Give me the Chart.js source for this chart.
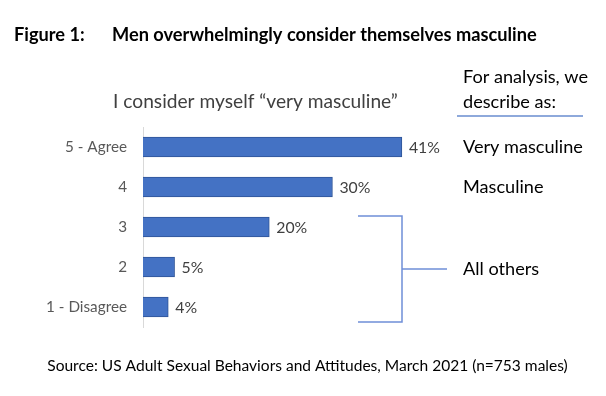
<!DOCTYPE html>
<html><head><meta charset="utf-8">
<script src="https://cdn.jsdelivr.net/npm/chart.js@4.4.0/dist/chart.umd.min.js"></script>
<style>html,body{margin:0;padding:0;background:#fff;}canvas{display:block;}</style>
</head><body>
<canvas id="c" width="606" height="396"></canvas>
<script>
const categories = ['5 - Agree', '4', '3', '2', '1 - Disagree'];
const values = [41, 30, 20, 5, 4];
const valueLabels = ['41%', '30%', '20%', '5%', '4%'];
const groupLabels = ['Very masculine', 'Masculine', 'All others'];
const figureLabel = 'Figure 1:';
const titleText = 'Men overwhelmingly consider themselves masculine';
const subtitleText = 'I consider myself \u201Cvery masculine\u201D';
const sideHeader = ['For analysis, we', 'describe as:'];
const sourceText = 'Source: US Adult Sexual Behaviors and Attitudes, March 2021 (n=753 males)';

const FAM = 'Lato, "Open Sans", sans-serif';
function fit(ctx, text, weight, target) {
  ctx.font = weight + ' 20px ' + FAM;
  const w = ctx.measureText(text).width;
  return 20 * target / w;
}

const textPlugin = {
  id: 'texts',
  afterDraw(chart) {
    const ctx = chart.ctx;
    const y = chart.scales.y;
    const meta = chart.getDatasetMeta(0);
    ctx.save();
    ctx.textBaseline = 'middle';
    ctx.textAlign = 'left';
    // title
    let s = fit(ctx, titleText, 'bold', 425);
    ctx.fillStyle = '#000';
    ctx.font = 'bold ' + s + 'px ' + FAM;
    ctx.fillText(figureLabel, 14, 35);
    ctx.fillText(titleText, 112, 35);
    // subtitle
    s = fit(ctx, subtitleText, 'normal', 285);
    ctx.fillStyle = '#404040';
    ctx.font = s + 'px ' + FAM;
    ctx.fillText(subtitleText, 113, 102);
    // side header
    s = fit(ctx, 'Very masculine', 'normal', 120);
    ctx.fillStyle = '#000';
    ctx.font = s + 'px ' + FAM;
    ctx.fillText(sideHeader[0], 463, 77);
    ctx.fillText(sideHeader[1], 463, 102);
    ctx.strokeStyle = '#8EA9DB';
    ctx.lineWidth = 2;
    ctx.beginPath(); ctx.moveTo(457, 116); ctx.lineTo(583, 116); ctx.stroke();
    // group labels
    const p0 = y.getPixelForValue(0), p1 = y.getPixelForValue(1);
    const top = y.getPixelForValue(2) - 11, bot = y.getPixelForValue(4) + 15;
    const mid = (top + bot) / 2;
    ctx.fillText(groupLabels[0], 463, p0);
    ctx.fillText(groupLabels[1], 463, p1);
    ctx.fillText(groupLabels[2], 463, mid);
    // bracket
    ctx.strokeStyle = '#6F8FD8';
    ctx.lineWidth = 1.5;
    ctx.beginPath();
    ctx.moveTo(358, top); ctx.lineTo(402, top); ctx.lineTo(402, bot); ctx.lineTo(358, bot);
    ctx.moveTo(402, mid); ctx.lineTo(447, mid);
    ctx.stroke();
    // value labels
    s = fit(ctx, '41%', 'normal', 31);
    ctx.fillStyle = '#404040';
    ctx.font = s + 'px ' + FAM;
    meta.data.forEach((bar, i) => {
      ctx.fillText(valueLabels[i], bar.x + 7, bar.y + 1);
    });
    // source
    s = fit(ctx, sourceText, 'normal', 521);
    ctx.fillStyle = '#000';
    ctx.font = s + 'px ' + FAM;
    ctx.textAlign = 'center';
    ctx.fillText(sourceText, 307.5, 366);
    ctx.restore();
  }
};

const ctx0 = document.getElementById('c').getContext('2d');
const catSize = fit(ctx0, '1 - Disagree', 'normal', 81);

new Chart(document.getElementById('c'), {
  type: 'bar',
  data: {
    labels: categories,
    datasets: [{
      data: values,
      backgroundColor: '#4472C4',
      borderColor: '#2F5597',
      borderWidth: 1,
      barThickness: 20
    }]
  },
  options: {
    indexAxis: 'y',
    responsive: false,
    animation: false,
    devicePixelRatio: 1,
    layout: { padding: { top: 127, bottom: 69, left: 0, right: 21 } },
    plugins: { legend: { display: false }, tooltip: { enabled: false } },
    scales: {
      x: { display: false, min: 0, max: 70 },
      y: {
        afterFit(scale) { scale.width = 143; },
        grid: { display: false, drawTicks: false },
        border: { display: true, color: '#D9D9D9', width: 1 },
        ticks: { color: '#595959', padding: 16, font: { family: FAM, size: catSize } }
      }
    }
  },
  plugins: [textPlugin]
});
</script>
</body></html>
